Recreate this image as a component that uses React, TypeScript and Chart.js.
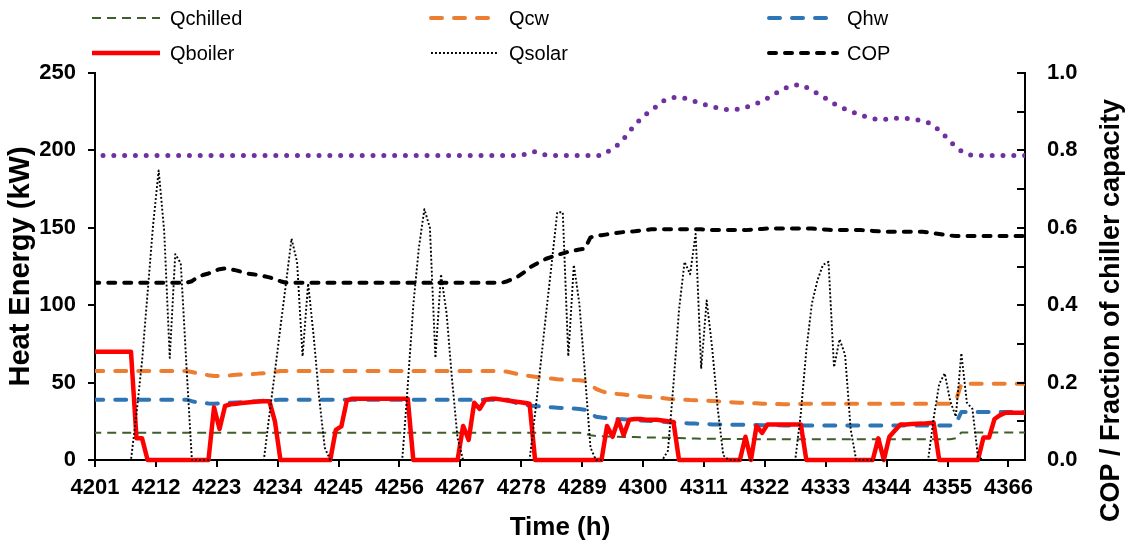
import React, { useEffect, useRef } from 'react';
import { Chart, registerables } from 'chart.js';

Chart.register(...registerables);

const FONT = "'Liberation Sans', Arial, sans-serif";

// ---- axis texts ----
const xTitle = 'Time (h)';
const yLeftTitle = 'Heat Energy (kW)';
const yRightTitle = 'COP / Fraction of chiller capacity';
const xTickHours = [4201, 4212, 4223, 4234, 4245, 4256, 4267, 4278, 4289, 4300, 4311, 4322, 4333, 4344, 4355, 4366];
const legendNames = ['Qchilled', 'Qcw', 'Qhw', 'Qboiler', 'Qsolar', 'COP'];

// ---- data (hourly, first sample at 4200.5 h) ----
const firstHour = 4200.5;

const qchilled = [
  17.6, 17.6, 17.6, 17.6, 17.6, 17.6, 17.6, 17.6, 17.6, 17.6,
  17.6, 17.6, 17.6, 17.6, 17.6, 17.6, 17.6, 17.6, 17.6, 17.6,
  17.6, 17.6, 17.6, 17.6, 17.6, 17.6, 17.6, 17.6, 17.6, 17.6,
  17.6, 17.6, 17.6, 17.6, 17.6, 17.6, 17.6, 17.6, 17.6, 17.6,
  17.6, 17.6, 17.6, 17.6, 17.6, 17.6, 17.6, 17.6, 17.6, 17.6,
  17.6, 17.6, 17.6, 17.6, 17.6, 17.6, 17.6, 17.6, 17.6, 17.6,
  17.6, 17.6, 17.6, 17.6, 17.6, 17.6, 17.6, 17.6, 17.6, 17.6,
  17.6, 17.6, 17.6, 17.6, 17.6, 17.6, 17.6, 17.6, 17.6, 17.6,
  17.6, 17.6, 17.6, 17.6, 17.6, 17.6, 17.6, 17.6, 17.6, 17,
  16, 15.5, 15.3, 15.2, 15.1, 15, 14.9, 14.8, 14.8, 14.7,
  14.6, 14.5, 14.5, 14.4, 14.4, 14.3, 14.2, 14.1, 14, 13.9,
  13.8, 13.8, 13.7, 13.7, 13.6, 13.6, 13.5, 13.5, 13.5, 13.4,
  13.4, 13.4, 13.4, 13.4, 13.4, 13.4, 13.4, 13.4, 13.4, 13.4,
  13.4, 13.4, 13.4, 13.4, 13.4, 13.4, 13.4, 13.4, 13.4, 13.4,
  13.4, 13.4, 13.4, 13.4, 13.4, 13.4, 13.4, 13.4, 13.4, 13.4,
  13.4, 13.4, 13.4, 13.4, 13.4, 13.4, 14, 17.8, 17.8, 17.8,
  17.8, 17.8, 17.8, 17.8, 17.8, 17.8, 17.8, 17.8, 17.8, 17.8,
];

const qcw = [
  57.5, 57.5, 57.5, 57.5, 57.5, 57.5, 57.5, 57.5, 57.5, 57.5,
  57.5, 57.5, 57.5, 57.5, 57.5, 57.5, 57.5, 57.5, 56.8, 56,
  55.4, 54.8, 54.3, 54.3, 54.5, 54.7, 55, 55.2, 55.4, 55.5,
  55.8, 56, 56.3, 57, 57.5, 57.5, 57.5, 57.5, 57.5, 57.5,
  57.5, 57.5, 57.5, 57.5, 57.5, 57.5, 57.5, 57.5, 57.5, 57.5,
  57.5, 57.5, 57.5, 57.5, 57.5, 57.5, 57.5, 57.5, 57.5, 57.5,
  57.5, 57.5, 57.5, 57.5, 57.5, 57.5, 57.5, 57.5, 57.5, 57.5,
  57.5, 57.5, 57.5, 57.5, 57.5, 57, 56.2, 55.4, 54.8, 54.3,
  53.8, 53.4, 53, 52.6, 52.2, 51.9, 51.8, 51.6, 51.5, 51,
  48.5, 46, 44.5, 43.3, 43, 42.6, 42.3, 41.8, 41.5, 41.2,
  40.8, 40.6, 40.3, 40, 39.6, 39.3, 39, 38.9, 38.7, 38.6,
  38.4, 38.3, 38.1, 37.9, 37.6, 37.4, 37.2, 37, 36.9, 36.7,
  36.6, 36.4, 36.3, 36.2, 36.1, 36, 36, 35.9, 36.3, 36.3,
  36.3, 36.3, 36.3, 36.3, 36.3, 36.3, 36.3, 36.3, 36.3, 36.3,
  36.3, 36.3, 36.3, 36.3, 36.3, 36.3, 36.3, 36.3, 36.3, 36.3,
  36.3, 36.3, 36.3, 36.3, 36.3, 36.3, 38, 49.3, 49.3, 49.3,
  49.3, 49.3, 49.3, 49.3, 49.3, 49.3, 49.3, 49.3, 49.3, 49.3,
];

const qhw = [
  39, 39, 39, 39, 39, 39, 39, 39, 39, 39,
  39, 39, 39, 39, 39, 39, 39, 39, 38, 37.2,
  36.8, 36.5, 36.4, 36.5, 36.7, 37, 37.2, 37.4, 37.5, 37.8,
  38, 38.3, 38.5, 38.8, 39, 39, 39, 39, 39, 39,
  39, 39, 39, 39, 39, 39, 39, 39, 39, 39,
  39, 39, 39, 39, 39, 39, 39, 39, 39, 39,
  39, 39, 39, 39, 39, 39, 39, 39, 39, 39,
  39, 39, 39, 39, 39, 39, 37.5, 36.4, 35.8, 35.2,
  34.8, 34.6, 34.3, 34, 33.8, 33.6, 33.4, 33.2, 33, 32.5,
  30, 28, 27.4, 27.1, 26.8, 26.5, 26.3, 26, 25.8, 25.6,
  25.3, 25.2, 25, 24.7, 24.4, 24.2, 24, 23.8, 23.6, 23.5,
  23.3, 23.2, 23, 23, 22.9, 22.9, 22.8, 22.8, 22.8, 22.7,
  22.6, 22.5, 22.5, 22.4, 22.4, 22.3, 22.3, 22.3, 22.3, 22.3,
  22.3, 22.3, 22.3, 22.3, 22.3, 22.3, 22.3, 22.3, 22.3, 22.3,
  22.3, 22.3, 22.3, 22.3, 22.3, 22.3, 22.3, 22.3, 22.3, 22.3,
  22.3, 22.3, 22.3, 22.3, 22.3, 22.3, 23.5, 31, 31, 31,
  31, 31, 31, 31, 31, 31, 31, 31, 31, 31,
];

const qboiler = [
  70, 70, 70, 70, 70, 70, 70, 70, 14, 14,
  0, 0, 0, 0, 0, 0, 0, 0, 0, 0,
  0, 0, 34, 20, 35, 36, 36.4, 36.8, 37.2, 37.5,
  37.8, 38, 38, 25, 0, 0, 0, 0, 0, 0,
  0, 0, 0, 0, 19.5, 21.7, 38.5, 39.6, 39.6, 39.6,
  39.6, 39.6, 39.6, 39.6, 39.6, 39.6, 39.6, 39.6, 0, 0,
  0, 0, 0, 0, 0, 0, 0, 22, 13, 37,
  33, 39, 39.5, 39.5, 39, 38.5, 38, 37.5, 37, 36.3,
  0, 0, 0, 0, 0, 0, 0, 0, 0, 0,
  0, 0, 0, 22, 15, 26, 16, 26, 26.5, 26.5,
  26, 26, 26, 25.5, 25, 24.5, 0, 0, 0, 0,
  0, 0, 0, 0, 0, 0, 0, 0, 15, 0,
  22, 17.5, 23, 23, 23, 23, 23, 23, 23, 0,
  0, 0, 0, 0, 0, 0, 0, 0, 0, 0,
  0, 0, 14, 0, 15, 19, 23, 23, 23.2, 23.4,
  23.5, 23.8, 24, 0, 0, 0, 0, 0, 0, 0,
  0, 14.5, 14.5, 26.5, 29, 30.5, 30.6, 30.6, 30.6, 30.6,
];

const qsolar = [
  0, 0, 0, 0, 0, 0, 0, 0, 30, 64,
  108, 152, 187, 148, 66, 133, 127, 62, 0, 0,
  0, 0, 0, 0, 0, 0, 0, 0, 0, 0,
  0, 0, 29, 57, 86, 114, 143, 128, 67, 114,
  80, 40, 8, 0, 0, 0, 0, 0, 0, 0,
  0, 0, 0, 0, 0, 0, 0, 48, 100, 137,
  162, 150, 66, 120, 95, 52, 14, 0, 0, 0,
  0, 0, 0, 0, 0, 0, 0, 0, 0, 0,
  30, 62, 95, 127, 160, 160, 67, 126, 101, 56,
  8, 0, 0, 0, 0, 0, 0, 0, 0, 0,
  0, 0, 0, 0, 6, 49, 97, 128, 120, 146,
  59, 103, 72, 33, 3, 0, 0, 0, 0, 0,
  0, 0, 0, 0, 0, 0, 0, 0, 30, 71,
  101, 116, 126, 128, 60, 78, 68, 20, 0, 0,
  0, 0, 0, 0, 0, 0, 0, 0, 0, 0,
  0, 0, 27, 49, 56, 38, 28, 69, 37, 33,
  2, 0, 0, 0, 0, 0, 0, 0, 0, 0,
];

const cop = [
  0.458, 0.458, 0.458, 0.458, 0.458, 0.458, 0.458, 0.458, 0.458, 0.458,
  0.458, 0.458, 0.458, 0.458, 0.458, 0.458, 0.458, 0.458, 0.462, 0.472,
  0.478, 0.482, 0.488, 0.493, 0.495, 0.493, 0.49, 0.486, 0.482, 0.48,
  0.478, 0.475, 0.472, 0.467, 0.462, 0.458, 0.458, 0.458, 0.458, 0.458,
  0.458, 0.458, 0.458, 0.458, 0.458, 0.458, 0.458, 0.458, 0.458, 0.458,
  0.458, 0.458, 0.458, 0.458, 0.458, 0.458, 0.458, 0.458, 0.458, 0.458,
  0.458, 0.458, 0.458, 0.458, 0.458, 0.458, 0.458, 0.458, 0.458, 0.458,
  0.458, 0.458, 0.458, 0.458, 0.458, 0.462, 0.468, 0.475, 0.485, 0.497,
  0.505, 0.513, 0.52, 0.525, 0.53, 0.534, 0.538, 0.541, 0.544, 0.546,
  0.575, 0.579, 0.581, 0.583, 0.585, 0.587, 0.589, 0.59, 0.591, 0.593,
  0.594, 0.596, 0.596, 0.596, 0.596, 0.596, 0.596, 0.596, 0.596, 0.596,
  0.596, 0.595, 0.594, 0.594, 0.594, 0.594, 0.594, 0.594, 0.594, 0.595,
  0.596, 0.597, 0.598, 0.598, 0.598, 0.598, 0.598, 0.598, 0.598, 0.598,
  0.598, 0.597, 0.596, 0.595, 0.594, 0.594, 0.594, 0.594, 0.594, 0.594,
  0.593, 0.592, 0.591, 0.59, 0.59, 0.59, 0.59, 0.59, 0.59, 0.59,
  0.59, 0.588, 0.586, 0.584, 0.582, 0.58, 0.579, 0.579, 0.579, 0.579,
  0.579, 0.579, 0.579, 0.579, 0.579, 0.579, 0.579, 0.579, 0.579, 0.579,
];

const chillerFraction = [
  0.787, 0.787, 0.787, 0.787, 0.787, 0.787, 0.787, 0.787, 0.787, 0.787,
  0.787, 0.787, 0.787, 0.787, 0.787, 0.787, 0.787, 0.787, 0.787, 0.787,
  0.787, 0.787, 0.787, 0.787, 0.787, 0.787, 0.787, 0.787, 0.787, 0.787,
  0.787, 0.787, 0.787, 0.787, 0.787, 0.787, 0.787, 0.787, 0.787, 0.787,
  0.787, 0.787, 0.787, 0.787, 0.787, 0.787, 0.787, 0.787, 0.787, 0.787,
  0.787, 0.787, 0.787, 0.787, 0.787, 0.787, 0.787, 0.787, 0.787, 0.787,
  0.787, 0.787, 0.787, 0.787, 0.787, 0.787, 0.787, 0.787, 0.787, 0.787,
  0.787, 0.787, 0.787, 0.787, 0.787, 0.787, 0.787, 0.787, 0.789, 0.794,
  0.797, 0.792, 0.788, 0.787, 0.787, 0.787, 0.787, 0.787, 0.787, 0.787,
  0.787, 0.787, 0.787, 0.795, 0.805, 0.815, 0.83, 0.848, 0.866, 0.88,
  0.893, 0.905, 0.914, 0.927, 0.933, 0.937, 0.937, 0.935, 0.931, 0.926,
  0.921, 0.917, 0.913, 0.91, 0.907, 0.905, 0.905, 0.907, 0.911, 0.916,
  0.921, 0.927, 0.935, 0.944, 0.952, 0.96, 0.966, 0.969, 0.97, 0.963,
  0.955, 0.947, 0.939, 0.93, 0.921, 0.914, 0.907, 0.901, 0.896, 0.89,
  0.886, 0.882, 0.88, 0.88, 0.881, 0.883, 0.883, 0.883, 0.881, 0.879,
  0.877, 0.872, 0.864, 0.852, 0.838, 0.822, 0.81, 0.798, 0.79, 0.787,
  0.787, 0.787, 0.787, 0.787, 0.787, 0.787, 0.787, 0.787, 0.787, 0.787,
];

const hours = qchilled.map((_, i) => firstHour + i);

type LineStyle = { color: string; width: number; dash: number[]; cap: CanvasLineCap };
const styles: Record<string, LineStyle> = {
  Qchilled: { color: '#3E5E2A', width: 2, dash: [9, 6], cap: 'butt' },
  Qcw: { color: '#ED7D31', width: 4, dash: [11, 12], cap: 'round' },
  Qhw: { color: '#2E75B6', width: 4, dash: [11, 12], cap: 'round' },
  Qboiler: { color: '#FF0000', width: 4.5, dash: [], cap: 'butt' },
  Qsolar: { color: '#000000', width: 1.9, dash: [1.9, 2.1], cap: 'butt' },
  COP: { color: '#000000', width: 4, dash: [7, 9], cap: 'round' },
  Fraction: { color: '#7030A0', width: 5, dash: [0, 10.8], cap: 'round' },
};

const decorPlugin = {
  id: 'decor',
  afterDraw(chart: any) {
    const ctx: CanvasRenderingContext2D = chart.ctx;
    const yR = chart.scales.y1;
    const area = chart.chartArea;
    ctx.save();
    // inward tick marks on the right axis
    ctx.strokeStyle = '#000';
    ctx.lineWidth = 2;
    ctx.setLineDash([]);
    yR.ticks.forEach((t: any) => {
      const y = Math.round(yR.getPixelForValue(t.value));
      ctx.beginPath();
      ctx.moveTo(area.right - 8, y);
      ctx.lineTo(area.right, y);
      ctx.stroke();
    });
    // right axis title (reads bottom-to-top)
    ctx.save();
    ctx.translate(area.right + 87, (area.top + area.bottom) / 2 + 44);
    ctx.rotate(-Math.PI / 2);
    ctx.font = `bold 27px ${FONT}`;
    ctx.fillStyle = '#000';
    ctx.textAlign = 'center';
    ctx.textBaseline = 'middle';
    ctx.fillText(yRightTitle, 0, 0);
    ctx.restore();
    // legend: 3 columns x 2 rows
    const colX = [92, 431, 769];
    const rowY = [18, 53];
    ctx.font = `20px ${FONT}`;
    ctx.textAlign = 'left';
    ctx.textBaseline = 'middle';
    legendNames.forEach((name, i) => {
      const s = styles[name];
      const x = colX[i % 3];
      const y = rowY[Math.floor(i / 3)];
      ctx.beginPath();
      ctx.strokeStyle = s.color;
      ctx.lineWidth = s.width;
      ctx.lineCap = s.cap;
      ctx.setLineDash(s.dash);
      ctx.moveTo(x, y);
      ctx.lineTo(x + 68, y);
      ctx.stroke();
      ctx.setLineDash([]);
      ctx.fillStyle = '#000';
      ctx.fillText(name, x + 78, y + 1);
    });
    ctx.restore();
  },
};

function makeDataset(label: string, values: number[], styleKey: string, axis: string, order: number) {
  const s = styles[styleKey];
  return {
    label,
    data: values,
    yAxisID: axis,
    borderColor: s.color,
    backgroundColor: s.color,
    borderWidth: s.width,
    borderDash: s.dash,
    borderCapStyle: s.cap,
    borderJoinStyle: 'round' as const,
    pointRadius: 0,
    pointHoverRadius: 0,
    tension: 0,
    fill: false,
    order,
    clip: { left: 0, right: 0, top: 8, bottom: 8 },
  };
}

export default function App() {
  const ref = useRef<HTMLCanvasElement>(null);

  useEffect(() => {
    if (!ref.current) return;
    Chart.defaults.font.family = FONT;
    Chart.defaults.color = '#000';
    const tickFont = { family: FONT, size: 22, weight: 'bold' as const };
    const chart = new Chart(ref.current, {
      type: 'line',
      data: {
        labels: hours,
        datasets: [
          makeDataset('Qchilled', qchilled, 'Qchilled', 'y', 7),
          makeDataset('Qcw', qcw, 'Qcw', 'y', 6),
          makeDataset('Qhw', qhw, 'Qhw', 'y', 5),
          makeDataset('Qboiler', qboiler, 'Qboiler', 'y', 4),
          makeDataset('Qsolar', qsolar, 'Qsolar', 'y', 3),
          makeDataset('COP', cop, 'COP', 'y1', 2),
          makeDataset('Fraction of chiller capacity', chillerFraction, 'Fraction', 'y1', 1),
        ],
      },
      options: {
        animation: false,
        responsive: false,
        devicePixelRatio: 1,
        layout: { padding: { top: 73, left: 0, right: 0, bottom: 0 } },
        plugins: { legend: { display: false }, tooltip: { enabled: false }, title: { display: false } },
        scales: {
          x: {
            type: 'linear',
            min: 4201,
            max: 4369,
            afterBuildTicks: (scale: any) => {
              scale.ticks = xTickHours.map((v) => ({ value: v }));
            },
            afterFit: (scale: any) => {
              scale.height = 90;
            },
            grid: { display: true, drawOnChartArea: false, drawTicks: true, tickLength: 7, color: '#000', lineWidth: 2 },
            border: { display: true, color: '#000', width: 2 },
            ticks: {
              autoSkip: false,
              maxRotation: 0,
              minRotation: 0,
              padding: 8,
              font: tickFont,
              color: '#000',
              callback: (v: any) => String(v),
            },
            title: {
              display: true,
              text: xTitle,
              font: { family: FONT, size: 26, weight: 'bold' },
              color: '#000',
              padding: { top: 0, bottom: 7 },
            },
          },
          y: {
            type: 'linear',
            position: 'left',
            min: 0,
            max: 250,
            ticks: { stepSize: 50, font: tickFont, color: '#000', padding: 12, callback: (v: any) => String(v) },
            afterFit: (scale: any) => {
              scale.width = 95;
            },
            grid: { display: true, drawOnChartArea: false, drawTicks: true, tickLength: 7, color: '#000', lineWidth: 2 },
            border: { display: true, color: '#000', width: 2 },
            title: {
              display: true,
              text: yLeftTitle,
              font: { family: FONT, size: 29, weight: 'bold' },
              color: '#000',
              padding: { top: 4, bottom: 0 },
            },
          },
          y1: {
            type: 'linear',
            position: 'right',
            min: 0,
            max: 1,
            ticks: {
              stepSize: 0.1,
              font: tickFont,
              color: '#000',
              padding: 22,
              callback: (v: any) => {
                const r = Math.round(Number(v) * 10);
                return r % 2 === 0 ? (r / 10).toFixed(1) : '';
              },
            },
            afterFit: (scale: any) => {
              scale.width = 111;
            },
            grid: { display: false, drawOnChartArea: false, drawTicks: false },
            border: { display: true, color: '#000', width: 2 },
            title: { display: false },
          },
        },
      },
      plugins: [decorPlugin],
    } as any);
    return () => chart.destroy();
  }, []);

  return (
    <div style={{ position: 'absolute', left: 0, top: 0, width: 1136, height: 550, background: '#fff' }}>
      <canvas ref={ref} width={1136} height={550} style={{ width: '1136px', height: '550px', display: 'block' }} />
    </div>
  );
}
